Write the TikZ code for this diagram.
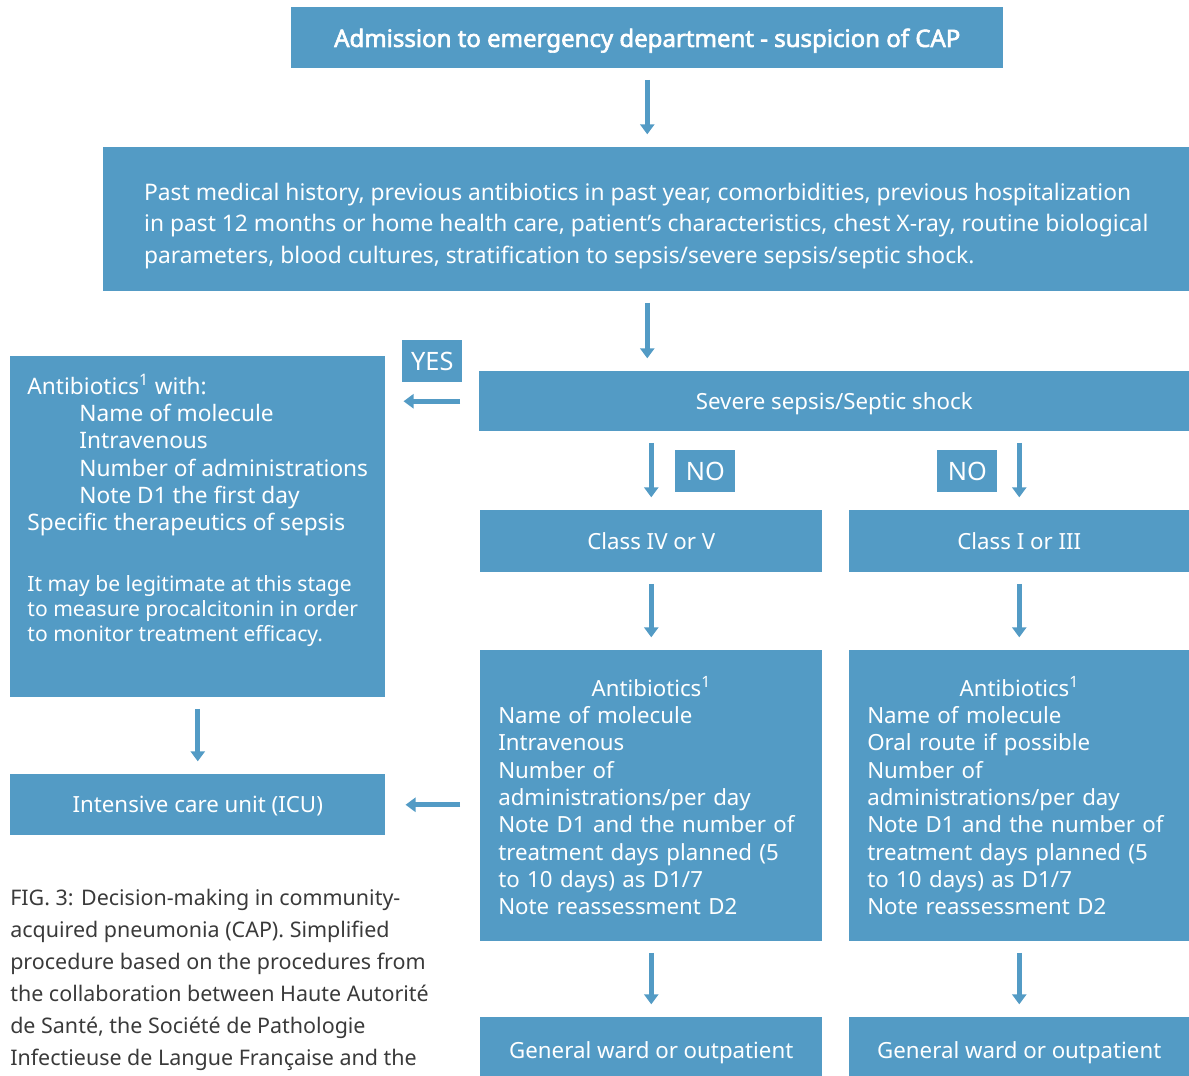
\documentclass[tikz,border=0pt]{standalone}
\usepackage{fontspec}
\setmainfont{Noto Sans}[AutoFakeBold=2.5]
\usetikzlibrary{arrows.meta}
\definecolor{capblue}{HTML}{539BC5}
\definecolor{capgray}{HTML}{3A3A3A}
\newcommand\notefont{\fontsize{15.8}{18.75}\selectfont}
\begin{document}
\begin{tikzpicture}[x=0.75pt, y=-0.75pt,
    box/.style={fill=capblue, text=white, inner sep=0pt, anchor=north west, font=\fontsize{16.7}{20.5}\selectfont},
    oneline/.style={box, text depth=0pt},
    sz/.style 2 args={minimum width=#1*0.75pt, minimum height=#2*0.75pt},
    flow/.style={draw=capblue, line width=3.75pt, -{Triangle[width=10.5pt,length=7.5pt]}, shorten <=8.5pt, shorten >=9.5pt}]

    \useasboundingbox (0,0) rectangle (1189,1075);

    \node[oneline, sz={712}{61}, font=\fontsize{18}{18}\selectfont\bfseries] (adm) at (291,7) {Admission to emergency department - suspicion of CAP};
    \node[box, sz={1086}{144}, align=left, font=\fontsize{17.1}{23.6}\selectfont] (hist) at (103,147)
        {\rule{0pt}{23pt}Past medical history, previous antibiotics in past year, comorbidities, previous hospitalization\\
         in past 12 months or home health care, patient’s characteristics, chest X-ray, routine biological\\
         parameters, blood cultures, stratification to sepsis/severe sepsis/septic shock.};
    \node[oneline, sz={710}{60}] (severe) at (479,371) {Severe sepsis/Septic shock};
    \node[oneline, sz={60}{42}, font=\fontsize{19}{20}\selectfont] (yes) at (402,340) {YES};

    % left branch
    \node[box, sz={375}{341}, align=left, font=\fontsize{17}{20.5}\selectfont] (sepsis) at (10,356)
        {Antibiotics\textsuperscript{1} with:\\
         \hspace*{39pt}Name of molecule\\
         \hspace*{39pt}Intravenous\\
         \hspace*{39pt}Number of administrations\\
         \hspace*{39pt}Note D1 the first day\\
         Specific therapeutics of sepsis\\[25pt]
         \notefont It may be legitimate at this stage\\[-1.75pt]
         \notefont to measure procalcitonin in order\\[-1.75pt]
         \notefont to monitor treatment efficacy.\\[7.5pt]};
    \node[oneline, sz={375}{61}] (icu) at (10,774) {Intensive care unit (ICU)};

    % right branches
    \node[oneline, sz={60}{42}, font=\fontsize{19}{20}\selectfont] (no1) at (675,450) {NO};
    \node[oneline, sz={60}{42}, font=\fontsize{19}{20}\selectfont] (no2) at (937,450) {NO};
    \node[oneline, sz={342}{62}] (classiv) at (480,510) {Class IV or V};
    \node[oneline, sz={340}{62}] (classi) at (849,510) {Class I or III};
    \node[box, sz={342}{291}, text width=229.5pt, inner xsep=13.5pt] (abxiv) at (480,650)
        {{\centering Antibiotics\textsuperscript{1}\par}\raggedright
         Name of molecule\\ Intravenous\\ Number of\\ administrations/per day\\
         Note D1 and the number of\\ treatment days planned (5\\ to 10 days) as D1/7\\
         Note reassessment D2\par};
    \node[box, sz={340}{291}, text width=228pt, inner xsep=13.5pt] (abxi) at (849,650)
        {{\centering Antibiotics\textsuperscript{1}\par}\raggedright
         Name of molecule\\ Oral route if possible\\ Number of\\ administrations/per day\\
         Note D1 and the number of\\ treatment days planned (5\\ to 10 days) as D1/7\\
         Note reassessment D2\par};
    \node[oneline, sz={342}{66}] (wardiv) at (480,1017) {General ward or outpatient};
    \node[oneline, sz={340}{66}] (wardi) at (849,1017) {General ward or outpatient};

    \node[anchor=north west, inner sep=0pt, text=capgray, align=left, font=\fontsize{16.1}{24}\selectfont] (caption) at (10,889)
        {FIG. 3: Decision-making in community-\\
         acquired pneumonia (CAP). Simplified\\
         procedure based on the procedures from\\
         the collaboration between Haute Autorité\\
         de Santé, the Société de Pathologie\\
         Infectieuse de Langue Française and the};

    \draw[flow] (adm) -- (hist.north -| adm);
    \draw[flow] (hist.south -| adm) -- (severe.north -| adm);
    \draw[flow, shorten <=14.25pt, shorten >=13.5pt] (severe.west) -- (severe.west -| sepsis.east);
    \draw[flow] (sepsis) -- (icu);
    \draw[flow] (severe.south -| classiv) -- (classiv);
    \draw[flow] (severe.south -| classi) -- (classi);
    \draw[flow] (classiv) -- (abxiv);
    \draw[flow] (classi) -- (abxi);
    \draw[flow] (abxiv) -- (wardiv);
    \draw[flow] (abxi) -- (wardi);
    \draw[flow, shorten <=15pt, shorten >=15pt] (icu.east -| abxiv.west) -- (icu.east);

\end{tikzpicture}
\end{document}
